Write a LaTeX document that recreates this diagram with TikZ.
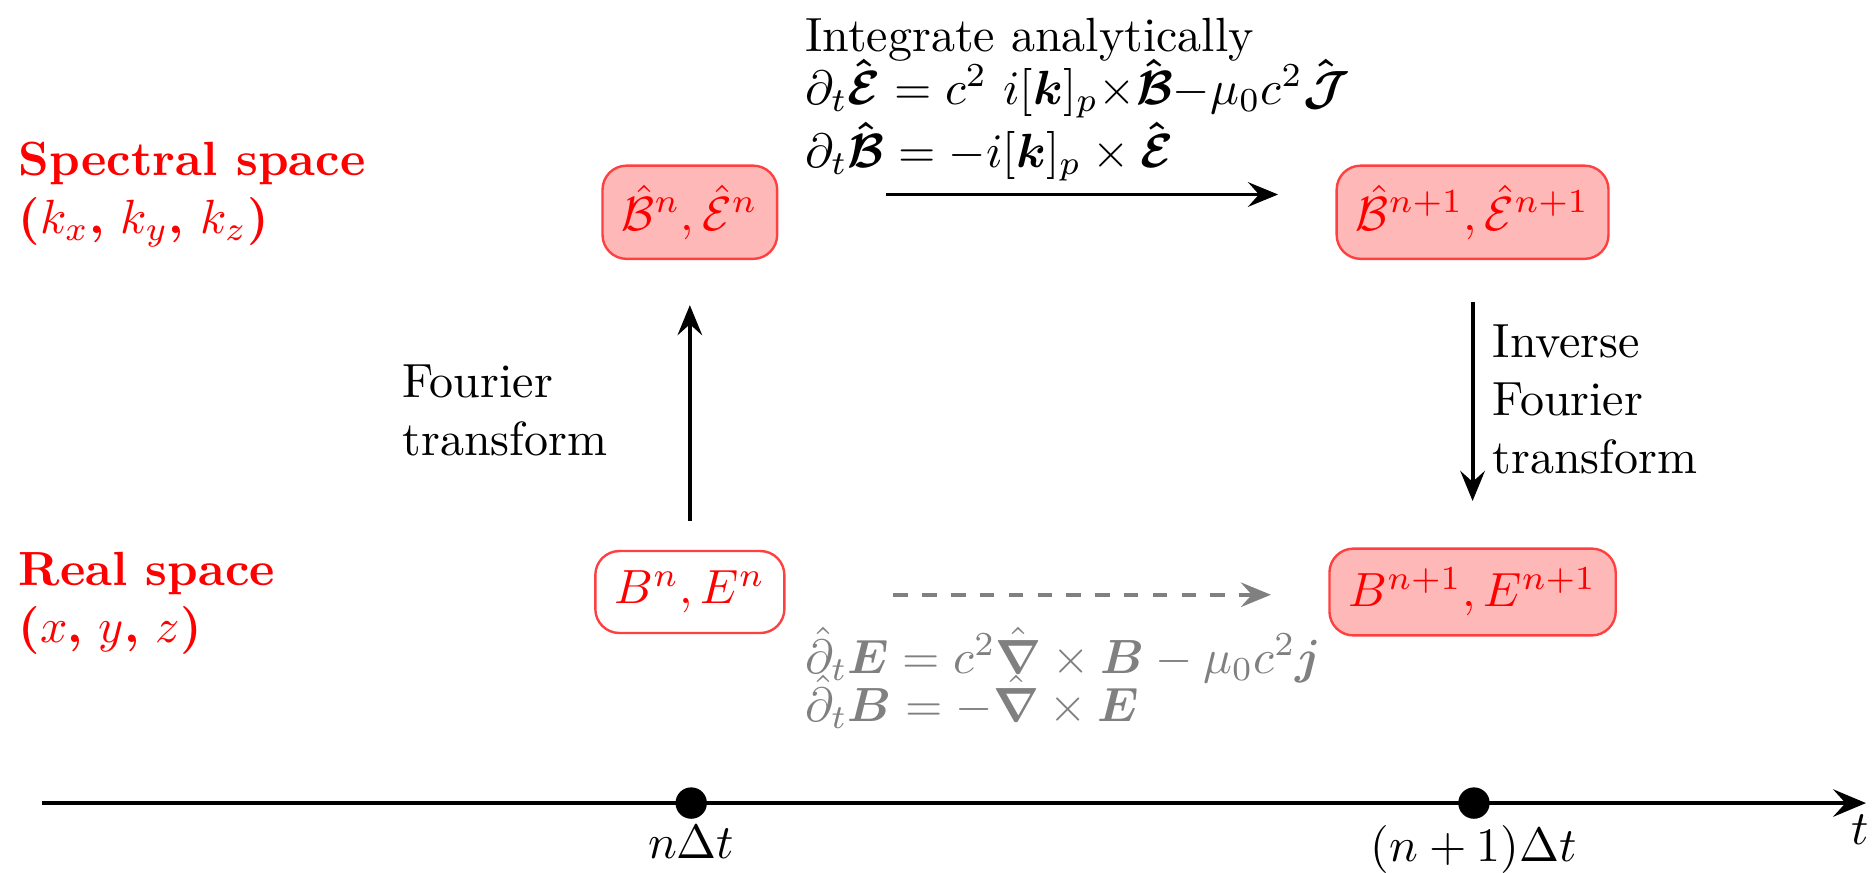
\documentclass[tikz,border=0pt]{standalone}
\usepackage{amsmath,amssymb}
\usepackage{bm}
\usepackage{xcolor}
\usepackage{tikz}
\usetikzlibrary{arrows.meta,positioning,calc}
\tikzset{
  fieldbox/.style={draw=red!75, rounded corners=5pt, text=red, inner sep=4pt,
               minimum height=6mm, line width=0.5pt},
  fspec/.style={fieldbox, fill=red!28},
  freal/.style={fieldbox, fill=white},
  spacelbl/.style={text=red, align=left, inner sep=0pt, anchor=north west},
  txt/.style={align=left, inner sep=0pt},
  ar/.style={-{Stealth[length=2.2mm, width=1.8mm, inset=0.8mm]}, line width=0.8pt},
  dar/.style={-{Stealth[length=2.2mm, width=1.8mm, inset=0.8mm]}, dashed, draw=black!50, line width=0.8pt},
  tdot/.style={circle, fill=black, inner sep=0pt, minimum size=2.3mm},
}

\begin{document}
\begin{tikzpicture}
  \useasboundingbox (0,0) rectangle (13.726,6.384);
  % spaces
  \node[spacelbl] (spec) at (0.13,5.35) {\textbf{Spectral space}\\$\bm{(}k_x\bm{,}\, k_y\bm{,}\, k_z\bm{)}$};
  \node[spacelbl] (real) at (0.13,2.35) {\textbf{Real space}\\$\bm{(}x\bm{,}\, y\bm{,}\, z\bm{)}$};
  % fields
  \node[fspec] (sn)  at (5.05,4.83) {$\hat{\mathcal{B}}^n, \hat{\mathcal{E}}^n$};
  \node[fspec] (sn1) at (10.78,4.83) {$\hat{\mathcal{B}}^{n+1}, \hat{\mathcal{E}}^{n+1}$};
  \node[freal] (rn)  at (5.05,2.05) {$B^n, E^n$};
  \node[fspec] (rn1) at (10.78,2.05) {$B^{n+1}, E^{n+1}$};
  % transforms
  \draw[ar] ($(rn.north)+(0,0.21)$) -- ($(sn.south)+(0,-0.33)$);
  \draw[ar] ($(sn1.south)+(0,-0.31)$) -- ($(rn1.north)+(0,0.34)$);
  \node[txt, anchor=west] (ft) at (2.94,3.38) {Fourier\\transform};
  \node[txt, anchor=west] (ift) at (10.92,3.46) {Inverse\\Fourier\\transform};
  % time stepping
  \draw[ar] ($(sn.east)+(0.79,0.13)$) -- ($(sn1.west)+(-0.42,0.13)$);
  \draw[dar] ($(rn.east)+(0.79,-0.02)$) -- ($(rn1.west)+(-0.42,-0.02)$);
  \node[txt, anchor=north west] (spec eq) at (5.89,6.26)
    {Integrate analytically\\[-1pt]
     $\partial_t \bm{\hat{\mathcal{E}}} = c^2\ i[\bm{k}]_p {\times} \bm{\hat{\mathcal{B}}} {-} \mu_0 c^2 \bm{\hat{\mathcal{J}}}$\\
     $\partial_t \bm{\hat{\mathcal{B}}} = -i[\bm{k}]_p \times \bm{\hat{\mathcal{E}}}$};
  \node[txt, anchor=north west, text=black!50] (real eq) at (5.89,1.80)
    {$\hat{\partial}_t \bm{E} = c^2 \hat{\bm{\nabla}} \times \bm{B} - \mu_0 c^2 \bm{j}$\\[-2pt]
     $\hat{\partial}_t \bm{B} = -\hat{\bm{\nabla}} \times \bm{E}$};
  % time axis
  \coordinate (t0) at (0.31,0.505);
  \coordinate (t1) at (13.66,0.505);
  \draw[-{Stealth[length=2.4mm, width=2mm, inset=0.9mm]}, line width=1pt] (t0) -- (t1);
  \node[tdot] (d0) at (5.06,0.505) {};
  \node[tdot] (d1) at (10.79,0.505) {};
  \node[below=-0.8mm of d0] (l0) {$n\Delta t$};
  \node[below=-0.8mm of d1] (l1) {$(n+1)\Delta t$};
  \node (lt) at (13.62,0.31) {$t$};
\end{tikzpicture}
\end{document}
